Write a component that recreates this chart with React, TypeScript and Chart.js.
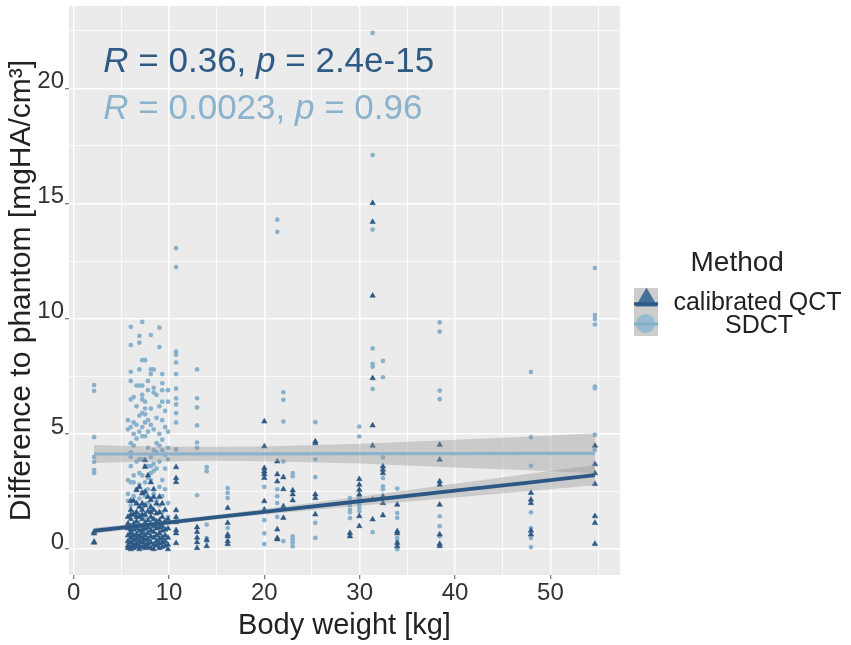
import { useEffect, useRef } from 'react';
import { Chart, registerables } from 'chart.js';

Chart.register(...registerables);

const FONT = '"Liberation Sans", Arial, Helvetica, sans-serif';
const QCT_COLOR = '#2c5985';
const SDCT_COLOR = '#87b1cd';
const QCT_LINE = '#2b5884';
const SDCT_LINE = '#8ab2cb';
const BAND_FILL = 'rgba(153,153,153,0.4)';
const TEXT_DARK = '#222222';

// Body weights (kg) of the measured columns
const weightKg = [
  2.15, 5.7, 6.0, 6.3, 6.6, 6.9, 7.2, 7.5, 7.8, 8.1, 8.4, 8.7, 9.0, 9.3, 9.6, 9.9,
  10.75, 12.95, 13.96, 16.16, 20.0, 21.36, 22.0, 22.98, 25.35, 28.98, 29.96, 31.36,
  32.44, 33.94, 38.39, 47.96, 54.67,
];

// Difference to phantom, calibrated QCT (per weight column)
const qctByWeight: number[][] = [
  [0.75, 0.68, 0.32, 0.28],
  [1.4, 1.1, 0.9, 0.6, 0.35, 0.15, 0.05],
  [2.1, 1.7, 1.5, 1.3, 1.0, 0.85, 0.7, 0.5, 0.3, 0.1, 0.0],
  [2.1, 1.5, 1.1, 0.85, 0.6, 0.4, 0.2, 0.05],
  [2.56, 1.98, 1.6, 1.4, 1.2, 0.9, 0.65, 0.45, 0.25, 0.1],
  [2.7, 1.84, 1.4, 1.05, 0.8, 0.55, 0.35, 0.15, 0.0],
  [2.42, 1.98, 1.7, 1.5, 1.3, 1.0, 0.85, 0.7, 0.5, 0.3, 0.1],
  [3.86, 3.57, 2.49, 1.9, 1.5, 1.15, 0.9, 0.6, 0.4, 0.2, 0.05],
  [3.2, 2.27, 1.65, 1.25, 0.95, 0.7, 0.45, 0.25, 0.1],
  [2.9, 2.13, 1.84, 1.6, 1.4, 1.1, 0.8, 0.55, 0.3, 0.05],
  [2.6, 2.27, 1.7, 1.3, 1.0, 0.75, 0.5, 0.2, 0.0],
  [1.98, 1.55, 1.2, 0.9, 0.6, 0.35, 0.15],
  [2.27, 1.6, 1.25, 0.95, 0.7, 0.45, 0.25, 0.05],
  [1.98, 1.4, 1.0, 0.8, 0.5, 0.3, 0.1],
  [1.7, 1.2, 0.85, 0.6, 0.35, 0.15],
  [1.3, 0.9, 0.5, 0.2, 0.0],
  [3.56, 3.08, 2.91, 1.69, 1.39, 1.17, 0.82, 0.69, 0.26],
  [0.95, 0.75, 0.5, 0.3, 0.05],
  [0.4, 0.13],
  [1.79, 1.14, 0.63, 0.56, 0.35, 0.22],
  [5.54, 4.46, 3.52, 3.38, 3.25, 3.09, 2.08, 1.72],
  [3.81, 3.25, 2.94, 0.86, 0.48, 0.43],
  [3.12, 2.6, 1.86, 1.36],
  [2.55, 2.38, 2.12],
  [4.68, 4.6, 2.38, 2.22, 1.51],
  [0.7, 0.56],
  [3.04, 2.8, 2.58, 2.37, 1.43, 1.0],
  [15.02, 14.2, 11.0, 7.42, 5.37, 4.49, 2.15, 1.29],
  [3.59, 3.45, 3.3, 2.29, 2.0, 1.47],
  [1.93, 0.78, 0.69, 0.27, 0.13],
  [4.53, 3.88, 2.94, 2.8, 1.93, 0.64, 0.23, 0.13],
  [2.44, 2.15, 2.0, 0.8, 0.64],
  [4.49, 3.69, 3.3, 2.83, 1.43, 1.14, 0.23],
];

// Difference to phantom, SDCT (per weight column)
const sdctByWeight: number[][] = [
  [7.12, 6.87, 4.86, 4.0, 3.79, 3.43, 3.31],
  [5.6, 5.2, 3.0, 2.4, 2.1, 1.1, 0.3],
  [9.65, 8.86, 7.7, 7.3, 6.5, 5.3, 4.6, 4.2, 4.0, 3.6, 2.9, 1.9, 0.7, 0.2],
  [6.6, 5.5, 5.0, 4.5, 3.2, 2.9, 2.3, 1.6, 0.4],
  [7.1, 6.2, 5.4, 4.8, 3.8, 2.6, 2.0, 1.2, 0.5],
  [9.26, 8.96, 7.8, 7.1, 5.8, 5.1, 3.9, 3.3, 2.8, 2.2, 1.5, 0.6],
  [9.86, 8.2, 7.1, 6.7, 6.5, 5.9, 5.3, 4.9, 3.9, 3.2, 2.5, 1.8, 0.4],
  [8.2, 6.4, 6.1, 5.85, 5.5, 4.9, 3.6, 2.9, 2.3, 1.4, 0.8],
  [7.3, 6.9, 5.6, 5.1, 4.4, 3.6, 3.1, 2.6, 2.0, 0.3],
  [9.29, 7.8, 7.6, 6.1, 5.4, 4.0, 3.6, 3.3, 3.0, 2.2, 1.7, 0.9],
  [7.8, 7.0, 6.8, 5.2, 4.3, 3.7, 3.4, 2.4, 1.3, 0.5],
  [6.7, 5.7, 4.6, 4.2, 3.5, 2.1, 1.0, 0.3],
  [9.61, 8.77, 6.2, 5.0, 4.5, 3.8, 2.7, 1.9, 0.6],
  [7.6, 7.2, 6.9, 6.4, 5.6, 4.75, 4.3, 3.0, 2.3, 1.6],
  [6.0, 5.3, 4.1, 3.5, 2.6, 1.2, 0.4],
  [6.9, 6.4, 5.1, 4.4, 3.9, 2.0, 1.4],
  [13.06, 12.24, 8.57, 8.44, 8.1, 7.6, 6.97, 6.54, 6.28, 5.9, 5.5, 4.33],
  [7.8, 6.55, 6.15, 5.37, 4.63, 4.4, 2.34],
  [3.56, 3.38, 1.07, 0.48, 0.35],
  [2.65, 2.44, 2.22, 0.92],
  [3.45, 3.3, 2.7, 1.26, 0.69, 0.22],
  [14.3, 13.77, 2.6, 2.3, 2.0, 1.7, 1.4],
  [6.81, 6.48, 5.54, 3.81, 0.35],
  [3.3, 3.16, 0.56, 0.43, 0.3, 0.13],
  [5.51, 3.9, 3.13, 1.14, 0.49],
  [2.22, 1.9, 1.7, 1.6, 1.35],
  [5.32, 4.89, 2.2, 1.95, 1.8, 1.65],
  [22.4, 17.1, 13.87, 8.71, 8.04, 7.92, 6.95, 0.74],
  [8.17, 7.46, 3.98, 3.09, 2.73, 2.6],
  [2.63, 1.57, 1.36, 0.49, 0.35, 0.0],
  [9.84, 9.44, 6.88, 6.51, 1.43, 1.0, 0.56],
  [7.69, 4.86, 3.62, 1.6, 0.92, 0.49, 0.09],
  [12.2, 10.16, 9.99, 9.75, 7.06, 6.98, 4.96, 4.3],
];

// Linear fits with 95% confidence bands
const fitX = [2.15, 8, 14.5, 20, 30, 40, 47, 54.67];
const qctFit = [0.8, 1.07, 1.37, 1.62, 2.08, 2.54, 2.86, 3.21];
const qctLower = [0.67, 0.97, 1.275, 1.5, 1.88, 2.24, 2.49, 2.77];
const qctUpper = [0.93, 1.17, 1.465, 1.74, 2.28, 2.84, 3.23, 3.65];
const sdctFit = [4.13, 4.13, 4.14, 4.14, 4.15, 4.15, 4.155, 4.16];
const sdctLower = [3.74, 3.8, 3.84, 3.82, 3.72, 3.55, 3.44, 3.29];
const sdctUpper = [4.52, 4.46, 4.44, 4.46, 4.58, 4.75, 4.87, 5.03];

// Axis ticks
const xMajorTicks = [0, 10, 20, 30, 40, 50];
const xMinorTicks = [5, 15, 25, 35, 45, 55];
const yMajorTicks = [0, 5, 10, 15, 20];
const yMinorTicks = [2.5, 7.5, 12.5, 17.5, 22.5];

// Correlation annotations
const statLabels = [
  { r: '0.36', p: '2.4e-15', color: '#2e5a84' },
  { r: '0.0023', p: '0.96', color: '#8bb3cc' },
];
const legendTitle = 'Method';
const legendLabels = ['calibrated QCT', 'SDCT'];

const X_MIN = -0.48;
const X_MAX = 57.3;
const Y_MIN = -1.12;
const Y_MAX = 23.57;

function toPoints(byWeight: number[][]) {
  const pts: { x: number; y: number }[] = [];
  weightKg.forEach((x, i) => {
    (byWeight[i] || []).forEach((y) => pts.push({ x, y }));
  });
  return pts;
}
function toLine(ys: number[]) {
  return fitX.map((x, i) => ({ x, y: ys[i] }));
}

const isMajorX = (v: number) => xMajorTicks.includes(v);
const isMajorY = (v: number) => yMajorTicks.includes(v);

const decorPlugin = {
  id: 'decor',
  beforeDraw(chart: any) {
    const { ctx, chartArea: a } = chart;
    ctx.save();
    ctx.fillStyle = '#ebebeb';
    ctx.fillRect(a.left, a.top, a.right - a.left, a.bottom - a.top);
    ctx.restore();
  },
  afterDraw(chart: any) {
    const { ctx, scales } = chart;
    const xs = scales.x;
    const ys = scales.y;
    ctx.save();
    ctx.textBaseline = 'alphabetic';

    // correlation labels
    const annX = xs.getPixelForValue(3.12);
    const annY = [ys.getPixelForValue(20.72), ys.getPixelForValue(18.65)];
    statLabels.forEach((s, i) => {
      const parts: [string, boolean][] = [
        ['R', true],
        [' = ' + s.r + ', ', false],
        ['p', true],
        [' = ' + s.p, false],
      ];
      ctx.fillStyle = s.color;
      ctx.textAlign = 'left';
      let cx = annX;
      for (const [t, it] of parts) {
        ctx.font = (it ? 'italic ' : '') + '35px ' + FONT;
        ctx.fillText(t, cx, annY[i]);
        cx += ctx.measureText(t).width;
      }
    });

    // axis titles
    ctx.fillStyle = TEXT_DARK;
    ctx.font = '29px ' + FONT;
    ctx.textAlign = 'center';
    ctx.fillText('Body weight [kg]', (chart.chartArea.left + chart.chartArea.right) / 2, 634);
    ctx.save();
    ctx.translate(29.5, (chart.chartArea.top + chart.chartArea.bottom) / 2);
    ctx.rotate(-Math.PI / 2);
    ctx.font = '30px ' + FONT;
    ctx.fillText('Difference to phantom [mgHA/cm³]', 0, 0);
    ctx.restore();

    // legend
    ctx.fillStyle = TEXT_DARK;
    ctx.textAlign = 'left';
    ctx.font = '28px ' + FONT;
    ctx.fillText(legendTitle, 690.5, 270.5);

    const kx = 634;
    const kw = 24;
    ctx.fillStyle = '#cdcdcd';
    ctx.fillRect(kx, 288, kw, 48);
    // QCT key: triangle + line
    ctx.fillStyle = '#46709a';
    ctx.beginPath();
    ctx.moveTo(kx + 12.5, 287.5);
    ctx.lineTo(kx + 1.5, 306.5);
    ctx.lineTo(kx + 23.5, 306.5);
    ctx.closePath();
    ctx.fill();
    ctx.strokeStyle = QCT_LINE;
    ctx.lineWidth = 3.5;
    ctx.beginPath();
    ctx.moveTo(kx, 304);
    ctx.lineTo(kx + kw, 304);
    ctx.stroke();
    // SDCT key: circle + line
    ctx.fillStyle = '#95bad2';
    ctx.beginPath();
    ctx.arc(kx + 11.5, 323.5, 9.5, 0, Math.PI * 2);
    ctx.fill();
    ctx.strokeStyle = '#84adc8';
    ctx.lineWidth = 3;
    ctx.beginPath();
    ctx.moveTo(kx, 324);
    ctx.lineTo(kx + kw, 324);
    ctx.stroke();

    ctx.fillStyle = TEXT_DARK;
    ctx.textAlign = 'center';
    ctx.font = '25px ' + FONT;
    ctx.fillText(legendLabels[0], 757.5, 310);
    ctx.fillText(legendLabels[1], 759, 332.5);
    ctx.restore();
  },
};

export default function App() {
  const ref = useRef<HTMLCanvasElement>(null);
  useEffect(() => {
    if (!ref.current) return;
    const lineBase = { type: 'line' as const, pointRadius: 0, pointHoverRadius: 0, tension: 0 };
    const chart = new Chart(ref.current, {
      type: 'scatter',
      data: {
        datasets: [
          { ...lineBase, data: toLine(qctFit), borderColor: QCT_LINE, borderWidth: 3.8, fill: false, order: 1 } as any,
          { ...lineBase, data: toLine(sdctFit), borderColor: SDCT_LINE, borderWidth: 3.2, fill: false, order: 2 } as any,
          { ...lineBase, data: toLine(qctUpper), borderColor: 'transparent', borderWidth: 0, fill: '+1', backgroundColor: BAND_FILL, order: 3 } as any,
          { ...lineBase, data: toLine(qctLower), borderColor: 'transparent', borderWidth: 0, fill: false, order: 3 } as any,
          { ...lineBase, data: toLine(sdctUpper), borderColor: 'transparent', borderWidth: 0, fill: '+1', backgroundColor: BAND_FILL, order: 4 } as any,
          { ...lineBase, data: toLine(sdctLower), borderColor: 'transparent', borderWidth: 0, fill: false, order: 4 } as any,
          {
            label: legendLabels[0],
            data: toPoints(qctByWeight),
            pointStyle: 'triangle',
            pointRadius: 3.2,
            backgroundColor: QCT_COLOR,
            borderColor: QCT_COLOR,
            borderWidth: 0.5,
            order: 10,
          } as any,
          {
            label: legendLabels[1],
            data: toPoints(sdctByWeight),
            pointStyle: 'circle',
            pointRadius: 2.35,
            backgroundColor: SDCT_COLOR,
            borderColor: SDCT_COLOR,
            borderWidth: 0,
            order: 11,
          } as any,
        ],
      },
      options: {
        animation: false,
        responsive: false,
        events: [],
        layout: { padding: { left: 0, right: 231, top: 6, bottom: 0 } },
        plugins: { legend: { display: false }, tooltip: { enabled: false } },
        scales: {
          x: {
            type: 'linear',
            min: X_MIN,
            max: X_MAX,
            afterBuildTicks: (s: any) => {
              s.ticks = [...xMajorTicks, ...xMinorTicks].sort((a, b) => a - b).map((v) => ({ value: v }));
            },
            afterFit: (s: any) => {
              s.height = 70;
              s.paddingLeft = 0;
              s.paddingRight = 0;
            },
            border: { display: false },
            grid: {
              color: '#ffffff',
              lineWidth: (c: any) => (c.tick && isMajorX(c.tick.value) ? 1.5 : 0.8),
              drawTicks: true,
              tickLength: 4,
              tickWidth: 1,
              tickColor: (c: any) => (c.tick && isMajorX(c.tick.value) ? '#555555' : 'rgba(0,0,0,0)'),
            },
            ticks: {
              autoSkip: false,
              maxRotation: 0,
              padding: 0,
              color: '#333333',
              font: { family: FONT, size: 24 },
              callback: (v: any) => (isMajorX(Number(v)) ? String(v) : ''),
            },
          },
          y: {
            type: 'linear',
            min: Y_MIN,
            max: Y_MAX,
            afterBuildTicks: (s: any) => {
              s.ticks = [...yMajorTicks, ...yMinorTicks].sort((a, b) => a - b).map((v) => ({ value: v }));
            },
            afterFit: (s: any) => {
              s.width = 69;
              s.paddingTop = 0;
              s.paddingBottom = 0;
            },
            border: { display: false },
            grid: {
              color: '#ffffff',
              lineWidth: (c: any) => (c.tick && isMajorY(c.tick.value) ? 1.5 : 0.8),
              drawTicks: true,
              tickLength: 4,
              tickWidth: 1,
              tickColor: (c: any) => (c.tick && isMajorY(c.tick.value) ? '#555555' : 'rgba(0,0,0,0)'),
            },
            ticks: {
              autoSkip: false,
              padding: 1,
              labelOffset: -7,
              color: '#333333',
              font: { family: FONT, size: 24 },
              callback: (v: any) => (isMajorY(Number(v)) ? String(v) : ''),
            },
          },
        },
      },
      plugins: [decorPlugin],
    } as any);
    return () => chart.destroy();
  }, []);

  return (
    <div style={{ position: 'absolute', left: 0, top: 0, width: 851, height: 645, background: '#ffffff' }}>
      <canvas ref={ref} width={851} height={645} style={{ display: 'block', width: 851, height: 645 }} />
    </div>
  );
}
